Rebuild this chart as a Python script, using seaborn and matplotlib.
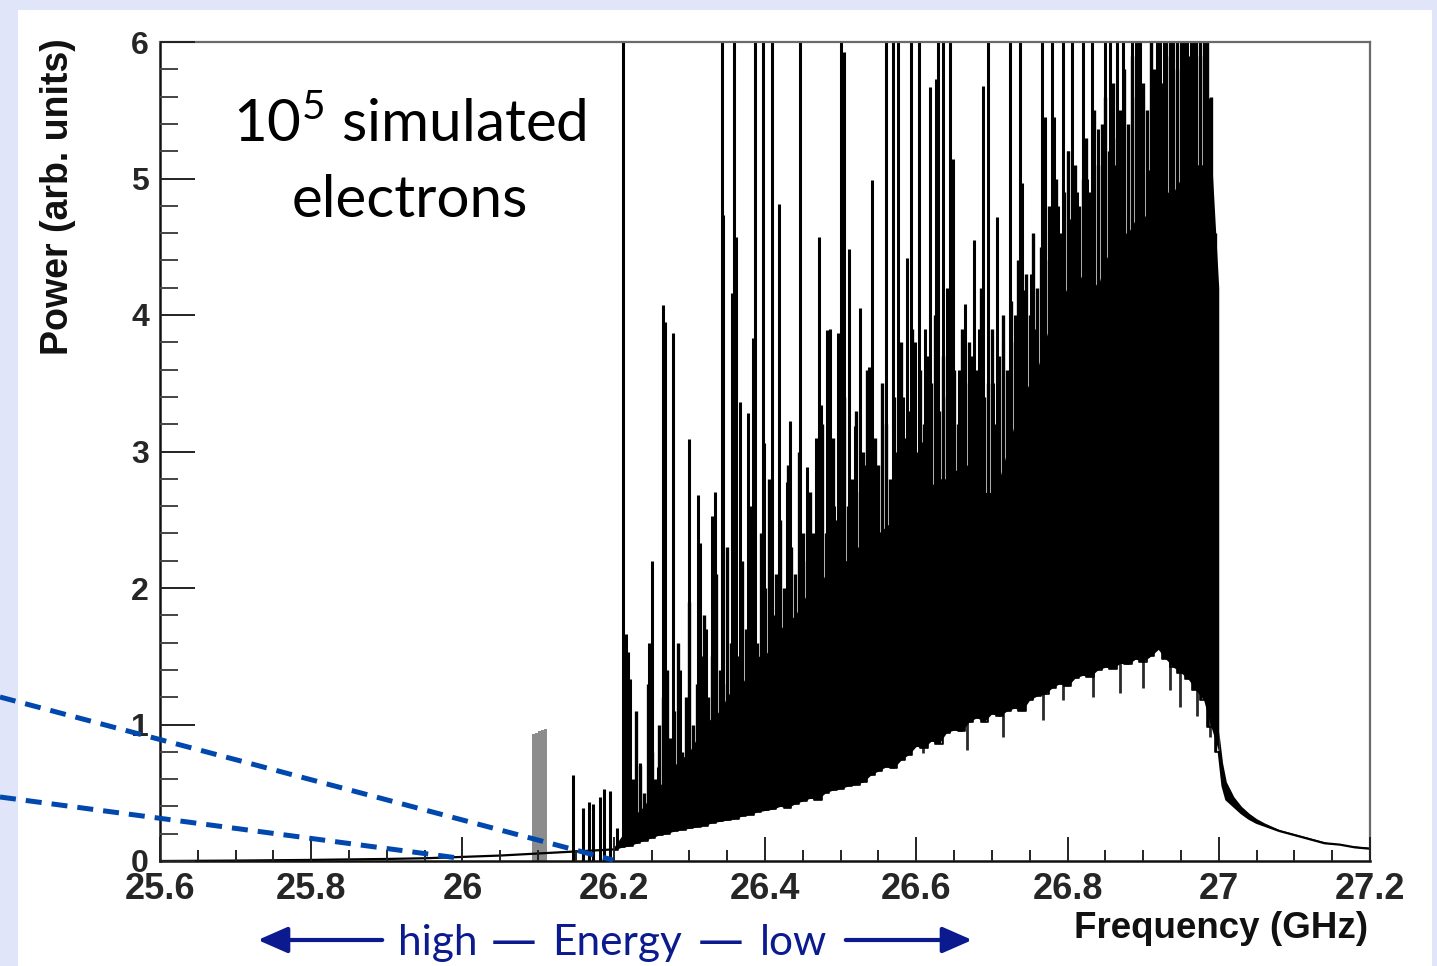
import numpy as np
import matplotlib
matplotlib.use("Agg")
import matplotlib.pyplot as plt
from matplotlib.lines import Line2D
from matplotlib.patches import Rectangle, FancyArrowPatch
from matplotlib.ticker import FixedLocator, MultipleLocator
import seaborn as sns

# ---------------- data ----------------
# smooth baseline below the main band (GHz, arb. units)
base_freq = [25.60, 25.70, 25.80, 25.90, 25.95, 26.00, 26.05, 26.10, 26.15, 26.20]
base_power = [0.000, 0.003, 0.008, 0.015, 0.020, 0.030, 0.040, 0.055, 0.070, 0.085]

# main band 26.20 .. 27.00 GHz in 0.01 GHz bins: lower envelope and solid-fill level
body_freq = np.round(np.arange(26.20, 27.0001, 0.01), 2)
body_low = [0.08, 0.10, 0.11, 0.13, 0.15, 0.17, 0.19, 0.20, 0.22, 0.23,
            0.24, 0.25, 0.26, 0.28, 0.29, 0.30, 0.31, 0.33, 0.34, 0.36,
            0.37, 0.38, 0.40, 0.39, 0.42, 0.44, 0.46, 0.45, 0.50, 0.52,
            0.53, 0.55, 0.56, 0.58, 0.63, 0.66, 0.69, 0.68, 0.74, 0.78,
            0.84, 0.83, 0.88, 0.86, 0.94, 0.96, 0.95, 1.02, 1.05, 1.02,
            1.08, 1.06, 1.10, 1.12, 1.10, 1.18, 1.21, 1.22, 1.27, 1.30,
            1.28, 1.34, 1.36, 1.35, 1.40, 1.42, 1.41, 1.45, 1.44, 1.48,
            1.46, 1.50, 1.55, 1.48, 1.42, 1.38, 1.33, 1.25, 1.18, 0.98,
            0.80]
body_mid = [0.10, 0.18, 0.30, 0.35, 0.40, 0.50, 0.55, 0.60, 0.70, 0.75,
            0.80, 0.90, 1.00, 1.05, 1.10, 1.20, 1.30, 1.30, 1.40, 1.50,
            1.50, 1.60, 1.70, 1.75, 1.80, 1.90, 2.00, 2.00, 2.10, 2.10,
            2.20, 2.20, 2.30, 2.30, 2.40, 2.40, 2.45, 2.50, 2.50, 2.60,
            2.60, 2.70, 2.75, 2.80, 2.80, 2.85, 2.90, 2.90, 2.80, 2.70,
            2.70, 2.80, 3.00, 3.20, 3.40, 3.50, 3.60, 3.80, 4.00, 4.10,
            4.20, 4.20, 4.30, 4.30, 4.20, 4.40, 4.50, 4.60, 4.60, 4.70,
            4.70, 4.80, 4.80, 4.90, 4.90, 5.00, 5.00, 5.10, 5.10, 5.20,
            4.20]

# densely packed lines, 0.005 GHz apart, 26.220 .. 26.995 GHz
band_freq = np.round(np.arange(26.220, 26.9951, 0.005), 3)
band_peak = [0.9, 0.6, 1.1, 0.7, 0.5, 1.3, 0.8, 0.6, 1.0, 1.2,
             1.4, 0.9, 1.1, 1.6, 0.8, 1.2, 1.9, 1.0, 1.3, 1.5,
             1.8, 1.2, 1.5, 2.1, 1.4, 1.3, 2.3, 1.6, 1.9, 1.5,
             2.2, 1.7, 2.6, 1.9, 1.6, 2.4, 2.0, 2.8, 1.8, 2.1,
             2.5, 2.0, 2.9, 2.3, 2.1, 3.0, 2.4, 2.2, 2.7, 2.3,
             2.8, 3.2, 2.4, 2.6, 3.1, 2.5, 2.9, 3.4, 2.6, 2.8,
             3.3, 2.7, 3.0, 3.6, 2.8, 3.1, 2.9, 3.5, 3.2, 2.8,
             3.4, 3.0, 3.8, 3.1, 3.3, 3.9, 3.0, 3.6, 3.2, 3.7,
             3.5, 4.0, 3.3, 3.7, 3.4, 4.1, 3.6, 3.2, 3.9, 3.5,
             3.8, 3.3, 3.6, 4.2, 3.4, 3.5, 3.9, 3.2, 3.7, 4.0,
             3.6, 4.1, 3.8, 4.4, 3.9, 4.3, 4.0, 4.6, 4.2, 4.5,
             4.4, 4.8, 4.5, 5.0, 4.6, 4.9, 5.2, 4.7, 5.1, 4.8,
             5.0, 5.3, 4.9, 5.5, 5.1, 5.4, 5.6, 5.2, 5.7, 5.3,
             5.5, 5.8, 5.4, 5.9, 5.6, 6.0, 5.7, 5.5, 6.0, 5.8,
             6.0, 5.7, 6.0, 5.9, 6.0, 5.8, 6.0, 6.0, 5.9, 6.0,
             6.0, 5.9, 6.0, 6.0, 5.6, 4.6]

# bins that dip below the lower envelope
dip_freq = [26.609, 26.667, 26.715, 26.768, 26.794, 26.834,
            26.869, 26.900, 26.936, 26.949, 26.971, 26.988]
dip_power = [0.79, 0.81, 0.91, 1.03, 1.18, 1.20,
             1.23, 1.27, 1.25, 1.13, 1.06, 0.91]

# high-frequency tail above 27 GHz
tail_freq = [27.000, 27.005, 27.010, 27.020, 27.030, 27.040, 27.050, 27.060,
             27.080, 27.100, 27.120, 27.140, 27.160, 27.180, 27.200]
tail_low = [0.80, 0.55, 0.45, 0.40, 0.35, 0.31, 0.28, 0.26,
            0.22, 0.19, 0.16, 0.13, 0.12, 0.10, 0.09]
tail_high = [0.95, 0.72, 0.58, 0.47, 0.40, 0.35, 0.31, 0.28,
             0.23, 0.20, 0.17, 0.14, 0.12, 0.11, 0.10]

# isolated grey block near 26.1 GHz
block_freq = [26.092, 26.096, 26.100, 26.104, 26.108]
block_power = [0.93, 0.94, 0.95, 0.96, 0.97]

# individual spectral lines (GHz, peak power; 6.0 = off scale)
spike_freq = [26.146, 26.159, 26.167, 26.173, 26.182, 26.187, 26.195, 26.204,
              26.212, 26.216, 26.219, 26.222, 26.235, 26.247, 26.250, 26.258,
              26.265, 26.268, 26.278, 26.288, 26.300, 26.311, 26.314, 26.322,
              26.330, 26.334, 26.343, 26.345, 26.356, 26.359, 26.361, 26.367,
              26.378, 26.384, 26.387, 26.397, 26.399, 26.409, 26.419, 26.429,
              26.433, 26.446, 26.456, 26.463, 26.468, 26.471, 26.474, 26.482,
              26.486, 26.491, 26.497, 26.500, 26.505, 26.511, 26.519, 26.526,
              26.533, 26.538, 26.542, 26.551, 26.560, 26.569, 26.576, 26.582,
              26.588, 26.593, 26.598, 26.603, 26.606, 26.612, 26.618, 26.626,
              26.629, 26.635, 26.640, 26.645, 26.648, 26.656, 26.665, 26.672,
              26.676, 26.683, 26.688, 26.695, 26.701, 26.707, 26.715, 26.724,
              26.731, 26.737, 26.740, 26.743, 26.752, 26.759, 26.766, 26.770,
              26.776, 26.780, 26.782, 26.788, 26.794, 26.800, 26.806, 26.813,
              26.820, 26.826, 26.832, 26.834, 26.840, 26.850, 26.856, 26.861,
              26.865, 26.873, 26.880, 26.885, 26.890, 26.896, 26.900, 26.906,
              26.911, 26.918, 26.922, 26.928, 26.935, 26.937, 26.945, 26.951,
              26.958, 26.963, 26.969, 26.975, 26.980, 26.985, 26.989, 26.994]
spike_power = [0.63, 0.39, 0.43, 0.42, 0.47, 0.53, 0.51, 0.24,
               6.00, 1.66, 1.53, 1.33, 0.72, 1.60, 2.20, 0.69,
               4.07, 3.95, 3.87, 1.40, 3.09, 2.68, 2.33, 1.70,
               2.53, 2.70, 6.00, 4.73, 4.16, 6.00, 4.57, 3.36,
               3.28, 3.83, 6.00, 6.00, 3.06, 6.00, 4.81, 2.78,
               3.22, 6.00, 2.89, 2.40, 3.10, 4.57, 3.34, 3.89,
               3.90, 2.60, 3.87, 6.00, 5.93, 4.48, 3.19, 4.05,
               2.90, 3.62, 4.99, 2.33, 6.00, 6.00, 6.00, 3.40,
               4.42, 6.00, 3.80, 6.00, 3.07, 3.90, 5.67, 5.73,
               6.00, 6.00, 4.20, 6.00, 5.14, 3.60, 4.08, 3.70,
               4.55, 3.90, 5.68, 6.00, 3.50, 4.72, 3.80, 6.00,
               4.00, 6.00, 4.97, 4.18, 4.30, 3.90, 6.00, 5.45,
               4.60, 6.00, 5.45, 4.80, 6.00, 5.20, 6.00, 4.90,
               6.00, 5.00, 6.00, 4.94, 5.36, 6.00, 6.00, 5.10,
               6.00, 6.00, 4.71, 6.00, 6.00, 6.00, 5.60, 5.06,
               6.00, 6.00, 6.00, 6.00, 6.00, 5.33, 6.00, 6.00,
               6.00, 6.00, 6.00, 6.00, 6.00, 6.00, 5.59, 4.15]

xtick_values = [25.6, 25.8, 26.0, 26.2, 26.4, 26.6, 26.8, 27.0, 27.2]
xtick_labels = ["25.6", "25.8", "26", "26.2", "26.4", "26.6", "26.8", "27", "27.2"]
ytick_values = [0, 1, 2, 3, 4, 5, 6]
ytick_labels = ["0", "1", "2", "3", "4", "5", "6"]

# ---------------- figure ----------------
sns.set_style("ticks")
plt.rcParams["font.family"] = ["Liberation Sans", "DejaVu Sans"]
plt.rcParams["mathtext.fontset"] = "custom"
plt.rcParams["mathtext.rm"] = "Lato"

W, H = 1437, 966
fig = plt.figure(figsize=(W / 100, H / 100), dpi=100)
fig.patch.set_facecolor("#E1E5FA")


def fx(x):
    return x / W


def fy(y):
    return 1 - y / H


# white slide panel
fig.add_artist(Rectangle((fx(18), 0), fx(1432) - fx(18), fy(10), transform=fig.transFigure,
                         facecolor="white", edgecolor="none", zorder=0))

ax = fig.add_axes([fx(160), fy(861), fx(1370) - fx(160), fy(42) - fy(861)])
ax.set_facecolor("white")

ink = "black"
# packed lines and individual lines (their lower parts are hidden under the envelope fill)
ax.vlines(band_freq, 0, band_peak, color=ink, lw=2.4, zorder=1.8)
ax.vlines(spike_freq, 0, spike_power, color=ink, lw=2.2, zorder=1.8)
# region below the lower envelope stays empty
ax.fill_between(body_freq, 0, body_low, step="mid", color="white", lw=0, zorder=2.0)
# solid core of the band
ax.fill_between(body_freq, body_low, body_mid, color=ink, lw=0, zorder=2.1)
sns.lineplot(x=body_freq, y=body_low, drawstyle="steps-mid", color=ink, lw=1.2, ax=ax, zorder=2.2)
# low bins poking below the envelope
ax.vlines(dip_freq, dip_power, 2.0, color="#2a2a2a", lw=2.0, zorder=2.05)

# baseline and tail
sns.lineplot(x=base_freq, y=base_power, color=ink, lw=1.6, ax=ax, zorder=2.2)
ax.fill_between(tail_freq, tail_low, tail_high, color=ink, lw=0, zorder=2.1)
sns.lineplot(x=tail_freq, y=tail_low, color=ink, lw=1.6, ax=ax, zorder=2.2)

# grey block
ax.bar(block_freq, block_power, width=0.004, align="edge", color="#8c8c8c", lw=0, zorder=2.0)

ax.set_xlim(25.6, 27.2)
ax.set_ylim(0, 6)
ax.xaxis.set_major_locator(FixedLocator(xtick_values))
ax.set_xticklabels(xtick_labels)
ax.xaxis.set_minor_locator(MultipleLocator(0.05))
ax.yaxis.set_major_locator(FixedLocator(ytick_values))
ax.set_yticklabels(ytick_labels)
ax.yaxis.set_minor_locator(MultipleLocator(0.2))
ax.set_xlabel("")
ax.set_ylabel("")

ax.tick_params(axis="x", which="major", direction="in", length=17, width=1.4, color="#222222",
               pad=8, labelsize=26)
ax.tick_params(axis="x", which="minor", direction="in", length=8, width=1.4, color="#222222")
ax.tick_params(axis="y", which="major", direction="in", length=25, width=1.4, color="#222222",
               pad=8, labelsize=23)
ax.tick_params(axis="y", which="minor", direction="in", length=13, width=1.4, color="#444444")
for lab in ax.get_xticklabels() + ax.get_yticklabels():
    lab.set_fontweight("bold")

for side in ["left", "bottom"]:
    ax.spines[side].set_color("#111111")
    ax.spines[side].set_linewidth(1.8)
for side in ["top", "right"]:
    ax.spines[side].set_visible(True)
    ax.spines[side].set_color("#6a6a6a")
    ax.spines[side].set_linewidth(1.6)
ax.set_axisbelow(False)

# axis titles
fig.text(fx(58), fy(38), "Power (arb. units)", rotation=90, ha="center", va="top",
         fontsize=27, fontweight="bold", color="#111111")
fig.text(fx(1368), fy(928), "Frequency (GHz)", ha="right", va="center",
         fontsize=26.5, fontweight="bold", color="#111111")

# annotation
lato = ["Lato", "DejaVu Sans"]
fig.text(fx(410), fy(142), r"10$^{\mathrm{5}}$ simulated", ha="center", va="baseline",
         fontsize=42, family=lato, color="black")
fig.text(fx(410), fy(217), "electrons", ha="center", va="baseline",
         fontsize=42, family=lato, color="black")

# energy direction caption
navy = "#0B1A8F"
for word, x_left in [("high", 398), ("Energy", 552), ("low", 760)]:
    fig.text(fx(x_left), fy(955), word, ha="left", va="baseline",
             fontsize=30.5, family=lato, color=navy)
for x_mid in [514, 721]:
    fig.text(fx(x_mid), fy(955), "\u2014", ha="center", va="baseline",
             fontsize=33, family=["DejaVu Sans"], color=navy)
for x0, x1 in [(385, 255), (843, 975)]:
    fig.add_artist(FancyArrowPatch((fx(x0), fy(940)), (fx(x1), fy(940)), transform=fig.transFigure,
                                   arrowstyle="-|>,head_length=1.3,head_width=0.57",
                                   mutation_scale=14, lw=3.0, color=navy, zorder=10))

# dashed guide lines
blue = "#0048AE"
for (x0, y0), (x1, y1) in [((0, 697), (613, 860)), ((0, 797), (458, 858))]:
    fig.add_artist(Line2D([fx(x0), fx(x1)], [fy(y0), fy(y1)], transform=fig.transFigure,
                          color=blue, lw=3.6, dashes=(3.2, 2.0), zorder=10))

fig.savefig("out.png", dpi=100, facecolor=fig.get_facecolor())
